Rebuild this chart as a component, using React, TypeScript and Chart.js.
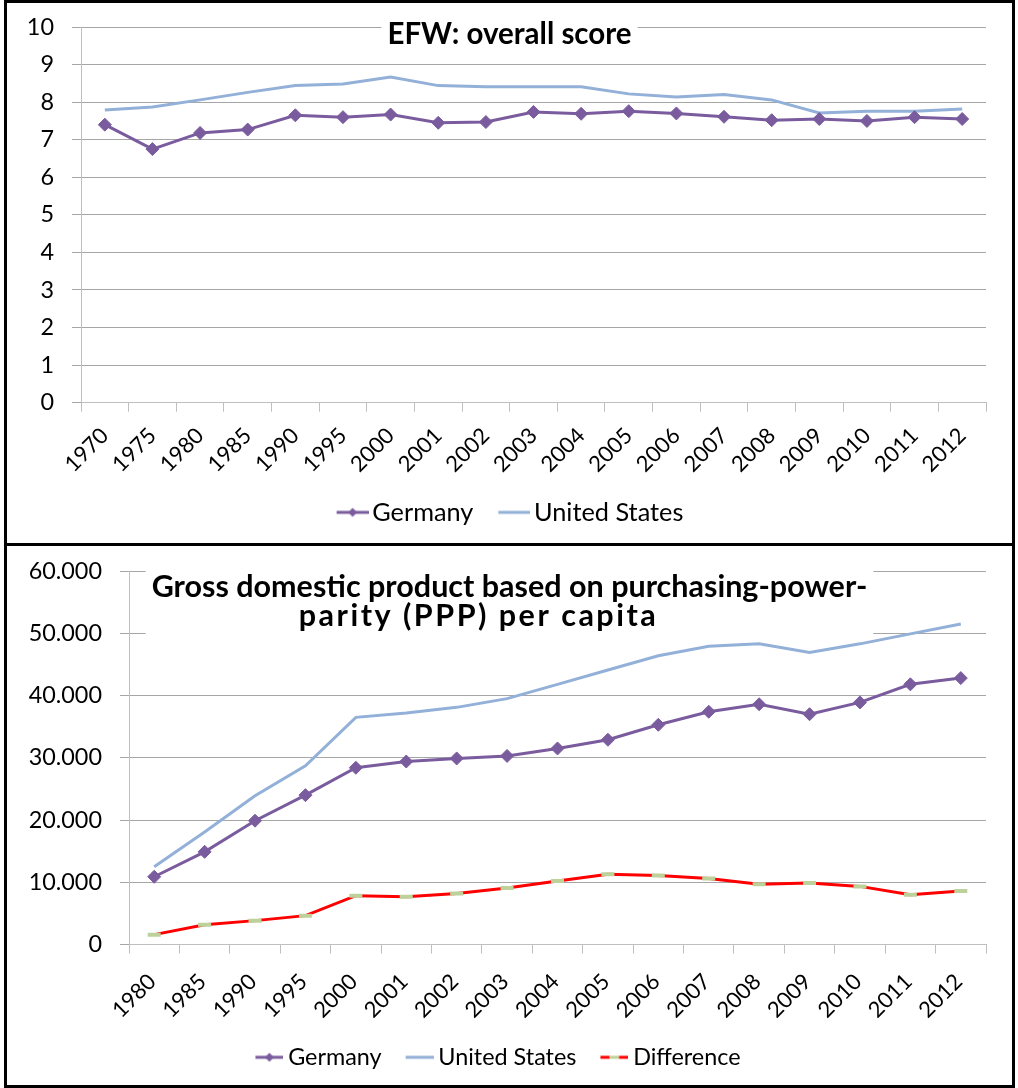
import React, { useEffect, useRef } from 'react';
import { Chart, registerables } from 'chart.js';

Chart.register(...registerables);

// ---------- Data ----------
const efwYears = ['1970', '1975', '1980', '1985', '1990', '1995', '2000', '2001', '2002', '2003', '2004', '2005', '2006', '2007', '2008', '2009', '2010', '2011', '2012'];
const efwGermany = [7.4, 6.75, 7.18, 7.27, 7.65, 7.6, 7.67, 7.45, 7.47, 7.74, 7.69, 7.76, 7.7, 7.61, 7.52, 7.55, 7.5, 7.6, 7.55];
const efwUnitedStates = [7.79, 7.87, 8.06, 8.26, 8.44, 8.48, 8.67, 8.44, 8.41, 8.41, 8.41, 8.22, 8.14, 8.2, 8.06, 7.71, 7.76, 7.76, 7.82];
const efwTitle = ['EFW: overall score'];

const gdpYears = ['1980', '1985', '1990', '1995', '2000', '2001', '2002', '2003', '2004', '2005', '2006', '2007', '2008', '2009', '2010', '2011', '2012'];
const gdpGermany = [10900, 14900, 19900, 24000, 28400, 29400, 29900, 30300, 31500, 32900, 35300, 37400, 38600, 37000, 38900, 41800, 42800];
const gdpUnitedStates = [12500, 18100, 23900, 28700, 36500, 37200, 38100, 39500, 41800, 44100, 46400, 47900, 48300, 46900, 48300, 49900, 51500];
const gdpDifference = [1600, 3200, 3850, 4650, 7850, 7700, 8200, 9100, 10200, 11300, 11100, 10600, 9700, 9900, 9350, 8000, 8600];
const gdpTitle = ['Gross domestic product based on purchasing-power-', 'parity (PPP) per capita'];

const seriesNames = ['Germany', 'United States', 'Difference'];

// ---------- Styles ----------
const FONT = 'Lato';
const C_GER = '#7A5C9E';
const C_US = '#92B0D8';
const C_DIFF = '#FF0000';
const C_DIFF_MARK = '#BDD29A';
const C_GRID = '#A6A6A6';
const C_AXIS = '#BFBFBF';

Chart.defaults.font.family = FONT;
Chart.defaults.color = '#000';

function legendIcon(kind: string, lineLen: number, total: number): HTMLCanvasElement {
  const c = document.createElement('canvas');
  c.width = total;
  c.height = 14;
  const g = c.getContext('2d') as CanvasRenderingContext2D;
  const x0 = total - lineLen;
  const cy = 7;
  g.lineWidth = 3;
  if (kind === 'diff') {
    const third = lineLen / 3;
    g.strokeStyle = C_DIFF;
    g.beginPath(); g.moveTo(x0, cy); g.lineTo(x0 + third, cy); g.stroke();
    g.strokeStyle = C_DIFF_MARK;
    g.beginPath(); g.moveTo(x0 + third, cy); g.lineTo(x0 + 2 * third, cy); g.stroke();
    g.strokeStyle = C_DIFF;
    g.beginPath(); g.moveTo(x0 + 2 * third, cy); g.lineTo(total, cy); g.stroke();
  } else {
    g.strokeStyle = kind === 'ger' ? C_GER : C_US;
    g.beginPath(); g.moveTo(x0, cy); g.lineTo(total, cy); g.stroke();
    if (kind === 'ger') {
      const mx = x0 + lineLen / 2;
      g.fillStyle = C_GER;
      g.beginPath();
      g.moveTo(mx, cy - 4.5); g.lineTo(mx + 4.5, cy); g.lineTo(mx, cy + 4.5); g.lineTo(mx - 4.5, cy);
      g.closePath(); g.fill();
    }
  }
  return c;
}

const boxTitlePlugin = {
  id: 'boxTitle',
  beforeDatasetsDraw(chart: any, _args: any, opts: any) {
    if (!opts || !opts.lines) return;
    const ctx = chart.ctx as CanvasRenderingContext2D;
    ctx.save();
    ctx.font = `bold ${opts.size}px ${FONT}`;
    const cx = chart.width / 2;
    let left = Infinity;
    let right = -Infinity;
    opts.lines.forEach((t: string, i: number) => {
      (ctx as any).letterSpacing = `${opts.spacing[i] || 0}px`;
      const w = ctx.measureText(t).width;
      const c = cx + (opts.dx[i] || 0);
      left = Math.min(left, c - w / 2);
      right = Math.max(right, c + w / 2);
    });
    ctx.fillStyle = '#fff';
    ctx.fillRect(left - opts.pad, opts.boxTop, right - left + 2 * opts.pad, opts.boxBottom - opts.boxTop);
    ctx.fillStyle = '#000';
    ctx.textAlign = 'center';
    ctx.textBaseline = 'alphabetic';
    opts.lines.forEach((t: string, i: number) => {
      (ctx as any).letterSpacing = `${opts.spacing[i] || 0}px`;
      ctx.fillText(t, cx + (opts.dx[i] || 0), opts.ys[i]);
    });
    ctx.restore();
  },
};

function legendOptions(icons: HTMLCanvasElement[], fontSize: number, padding: number) {
  return {
    display: true,
    position: 'bottom',
    labels: {
      usePointStyle: true,
      pointStyleWidth: 24,
      padding,
      color: '#000',
      font: { size: fontSize, family: FONT },
      generateLabels: (chart: any) =>
        chart.data.datasets.map((ds: any, i: number) => ({
          text: ds.label,
          pointStyle: icons[i],
          fillStyle: 'rgba(0,0,0,0)',
          strokeStyle: 'rgba(0,0,0,0)',
          lineWidth: 0,
          fontColor: '#000',
          hidden: false,
          datasetIndex: i,
        })),
    },
  };
}

function xScale(height: number, padding: number, labelOffset: number) {
  return {
    type: 'category',
    offset: true,
    grid: { display: true, drawOnChartArea: false, drawTicks: true, tickLength: 9, color: C_AXIS, offset: true },
    border: { display: true, color: C_AXIS, width: 1 },
    ticks: { minRotation: 45, maxRotation: 45, autoSkip: false, padding, labelOffset, color: '#000', font: { size: 22, family: FONT } },
    afterFit: (s: any) => { s.height = height; },
  };
}

// invisible spacer on the right so the legend can be centred on the whole box
function rightSpacer(width: number) {
  return {
    type: 'linear',
    position: 'right',
    display: true,
    grid: { display: false, drawTicks: false },
    ticks: { display: false },
    border: { display: false },
    afterFit: (s: any) => { s.width = width; s.paddingTop = 0; s.paddingBottom = 0; },
  };
}

function ChartBox({ config, height, borderTop }: { config: any; height: number; borderTop: boolean }) {
  const ref = useRef<HTMLCanvasElement | null>(null);
  useEffect(() => {
    if (!ref.current) return;
    const chart = new Chart(ref.current, config);
    return () => chart.destroy();
  }, []);
  return (
    <div
      style={{
        boxSizing: 'border-box',
        width: 1011,
        height,
        border: '3px solid #000',
        borderTop: borderTop ? '3px solid #000' : 'none',
        background: '#fff',
      }}
    >
      <div style={{ position: 'relative', width: 1005, height: height - (borderTop ? 6 : 3) }}>
        <canvas ref={ref} />
      </div>
    </div>
  );
}

function efwConfig() {
  const icons = [legendIcon('ger', 32, 42), legendIcon('us', 32, 42)];
  return {
    type: 'line',
    data: {
      labels: efwYears,
      datasets: [
        {
          label: seriesNames[0], data: efwGermany, borderColor: C_GER, backgroundColor: C_GER, borderWidth: 3,
          pointStyle: 'rectRot', pointRadius: 6.5, pointBackgroundColor: C_GER, pointBorderColor: C_GER, pointBorderWidth: 1, tension: 0,
        },
        {
          label: seriesNames[1], data: efwUnitedStates, borderColor: C_US, backgroundColor: C_US, borderWidth: 3,
          pointRadius: 0, tension: 0,
        },
      ],
    },
    options: {
      animation: false,
      responsive: true,
      maintainAspectRatio: false,
      layout: { padding: { left: 0, right: 0, top: 24, bottom: 8 } },
      plugins: {
        legend: legendOptions(icons, 25.3, 24),
        tooltip: { enabled: false },
        title: { display: false },
        boxTitle: { lines: efwTitle, ys: [41], dx: [0], spacing: [0], size: 29.5, pad: 6, boxTop: 12, boxBottom: 52 },
      },
      scales: {
        x: xScale(73, 11, 0),
        y: {
          min: 0, max: 10,
          ticks: { stepSize: 1, padding: 18, color: '#000', font: { size: 23.4, family: FONT } },
          grid: { color: C_GRID, tickLength: 9 },
          border: { display: true, color: C_AXIS },
          afterFit: (s: any) => { s.width = 74; s.paddingTop = 0; s.paddingBottom = 0; },
        },
        spacer: rightSpacer(26),
      },
    },
    plugins: [boxTitlePlugin],
  };
}

function gdpConfig() {
  const icons = [legendIcon('ger', 28, 38), legendIcon('us', 28, 38), legendIcon('diff', 28, 38)];
  return {
    type: 'line',
    data: {
      labels: gdpYears,
      datasets: [
        {
          label: seriesNames[0], data: gdpGermany, borderColor: C_GER, backgroundColor: C_GER, borderWidth: 3,
          pointStyle: 'rectRot', pointRadius: 6.5, pointBackgroundColor: C_GER, pointBorderColor: C_GER, pointBorderWidth: 1, tension: 0,
        },
        {
          label: seriesNames[1], data: gdpUnitedStates, borderColor: C_US, backgroundColor: C_US, borderWidth: 3,
          pointRadius: 0, tension: 0,
        },
        {
          label: seriesNames[2], data: gdpDifference, borderColor: C_DIFF, backgroundColor: C_DIFF, borderWidth: 3,
          pointStyle: 'line', pointRadius: 6.5, pointBorderColor: C_DIFF_MARK, pointBackgroundColor: C_DIFF_MARK, pointBorderWidth: 4, tension: 0,
        },
      ],
    },
    options: {
      animation: false,
      responsive: true,
      maintainAspectRatio: false,
      layout: { padding: { left: 0, right: 26, top: 25, bottom: 6 } },
      plugins: {
        legend: legendOptions(icons, 23.4, 21),
        tooltip: { enabled: false },
        title: { display: false },
        boxTitle: { lines: gdpTitle, ys: [51, 80], dx: [0, -31], spacing: [0, 2.5], size: 30.5, pad: 6, boxTop: 14, boxBottom: 95 },
      },
      scales: {
        x: xScale(80, 15, -2),
        y: {
          min: 0, max: 60000,
          ticks: {
            stepSize: 10000, padding: 18, color: '#000', font: { size: 23.4, family: FONT },
            callback: (v: number) => (v === 0 ? '0' : `${Math.round(v / 1000)}.000`),
          },
          grid: { color: C_GRID, tickLength: 9 },
          border: { display: true, color: C_AXIS },
          afterFit: (s: any) => { s.width = 122; s.paddingTop = 0; s.paddingBottom = 0; },
        },
      },
    },
    plugins: [boxTitlePlugin],
  };
}

export default function App() {
  return (
    <div style={{ position: 'absolute', left: 4, top: 0, width: 1011, background: '#fff' }}>
      <ChartBox config={efwConfig()} height={546} borderTop={true} />
      <ChartBox config={gdpConfig()} height={542} borderTop={false} />
    </div>
  );
}
